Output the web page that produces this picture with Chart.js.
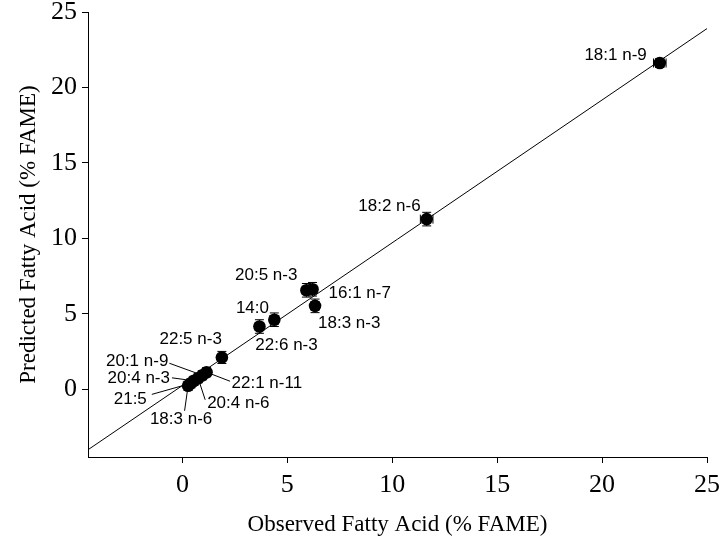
<!DOCTYPE html>
<html>
<head>
<meta charset="utf-8">
<script src="https://cdn.jsdelivr.net/npm/chart.js@4"></script>
<style>
  html, body { margin: 0; padding: 0; background: #fff; }
  #chart { display: block; }
</style>
</head>
<body>
<canvas id="chart" width="725" height="542"></canvas>
<script>
// fatty acids, observed vs predicted (% FAME)
const acids = ['18:1 n-9', '18:2 n-6', '20:5 n-3', '16:1 n-7', '18:3 n-3', '14:0', '22:6 n-3',
  '22:5 n-3', '20:1 n-9', '20:4 n-3', '21:5', '18:3 n-6', '20:4 n-6', '22:1 n-11'];
const observed = [22.75, 11.64, 5.91, 6.2, 6.32, 3.67, 4.38, 1.88, 0.95, 0.55, 0.4, 0.27, 0.75, 1.15];
const predicted = [21.62, 11.27, 6.55, 6.62, 5.52, 4.15, 4.6, 2.1, 0.92, 0.55, 0.38, 0.22, 0.72, 1.12];
const observedErr = [0.3, 0.3, 0.2, 0.2, 0.2, 0.2, 0.2, 0.15, 0.1, 0.1, 0.1, 0.1, 0.1, 0.1];
const predictedErr = [0.3, 0.45, 0.45, 0.45, 0.45, 0.45, 0.45, 0.4, 0.3, 0.3, 0.3, 0.3, 0.3, 0.3];

// fitted line ends
const fitX = [-4.5, 25];
const fitY = [-4.02, 23.9];

const xTicks = [0, 5, 10, 15, 20, 25];
const yTicks = [0, 5, 10, 15, 20, 25];

// label placement in px from the point: [dx, dy, align], leader end [dx, dy] or null
const labelPos = [
  [-13, -8, 'right', null],
  [-6, -13, 'right', null],
  [-9, -15, 'right', null],
  [16, 4, 'left', null],
  [3, 17, 'left', null],
  [-7, -18, 'center', null],
  [-19, 26, 'left', null],
  [0, -18, 'right', null],
  [-34, -14, 'right', [-33, -12]],
  [-24, -3, 'right', [-22, -3]],
  [-44, 16, 'right', [-39, 11]],
  [-7, 34, 'center', [-3.5, 25]],
  [9, 25, 'left', [7, 21.5]],
  [25, 11, 'left', [23.5, 9]]
];

const black = '#000';
const serif = "'Liberation Serif', 'Times New Roman', serif";
const sans = "'Liberation Sans', Arial, sans-serif";

const extras = {
  id: 'extras',
  beforeDatasetsDraw(chart) {
    const ctx = chart.ctx;
    const meta = chart.getDatasetMeta(1);
    ctx.save();
    ctx.strokeStyle = black;
    ctx.lineWidth = 1;
    meta.data.forEach((pt, i) => {
      const lead = labelPos[i][3];
      if (!lead) return;
      ctx.beginPath();
      ctx.moveTo(pt.x, pt.y);
      ctx.lineTo(pt.x + lead[0], pt.y + lead[1]);
      ctx.stroke();
    });
    ctx.restore();
  },
  afterDatasetsDraw(chart) {
    const ctx = chart.ctx;
    const xs = chart.scales.x, ys = chart.scales.y;
    const meta = chart.getDatasetMeta(1);
    ctx.save();
    ctx.strokeStyle = black;
    ctx.lineWidth = 1;
    const cap = 4.5;
    observed.forEach((v, i) => {
      const cx = xs.getPixelForValue(v), cy = ys.getPixelForValue(predicted[i]);
      const x0 = xs.getPixelForValue(v - observedErr[i]), x1 = xs.getPixelForValue(v + observedErr[i]);
      const y0 = ys.getPixelForValue(predicted[i] - predictedErr[i]), y1 = ys.getPixelForValue(predicted[i] + predictedErr[i]);
      ctx.beginPath();
      ctx.moveTo(x0, cy); ctx.lineTo(x1, cy);
      ctx.moveTo(x0, cy - cap); ctx.lineTo(x0, cy + cap);
      ctx.moveTo(x1, cy - cap); ctx.lineTo(x1, cy + cap);
      ctx.moveTo(cx, y0); ctx.lineTo(cx, y1);
      ctx.moveTo(cx - cap, y0); ctx.lineTo(cx + cap, y0);
      ctx.moveTo(cx - cap, y1); ctx.lineTo(cx + cap, y1);
      ctx.stroke();
    });
    ctx.fillStyle = black;
    ctx.font = '17px ' + sans;
    ctx.textBaseline = 'middle';
    meta.data.forEach((pt, i) => {
      const p = labelPos[i];
      ctx.textAlign = p[2];
      ctx.fillText(acids[i], pt.x + p[0], pt.y + p[1]);
    });
    ctx.restore();
  }
};

function axis(ticks, title, fit, tickPad, titlePad) {
  return {
    type: 'linear',
    min: -4.5,
    max: 25,
    afterBuildTicks: s => { s.ticks = ticks.map(v => ({ value: v })); },
    afterFit: s => {
      fit(s);
      s.paddingTop = 0; s.paddingBottom = 0; s.paddingLeft = 0; s.paddingRight = 0;
    },
    grid: { drawOnChartArea: false, drawTicks: true, tickLength: 6, color: black, lineWidth: 1 },
    border: { display: true, color: black, width: 1 },
    ticks: { color: black, font: { family: serif, size: 26 }, padding: tickPad },
    title: { display: true, text: title, color: black, font: { family: serif, size: 23 }, padding: titlePad }
  };
}

new Chart(document.getElementById('chart'), {
  type: 'scatter',
  data: {
    datasets: [{
      type: 'line',
      data: fitX.map((v, i) => ({ x: v, y: fitY[i] })),
      borderColor: black,
      borderWidth: 1,
      pointRadius: 0,
      fill: false
    }, {
      data: observed.map((v, i) => ({ x: v, y: predicted[i] })),
      backgroundColor: black,
      borderColor: black,
      pointRadius: 6.3,
      pointBorderWidth: 0
    }]
  },
  options: {
    responsive: false,
    animation: false,
    layout: { padding: { top: 12, right: 18, left: 0, bottom: 0 } },
    plugins: { legend: { display: false }, tooltip: { enabled: false } },
    scales: {
      x: axis(xTicks, 'Observed Fatty Acid (% FAME)', s => { s.height = 85; }, 7, { top: 0, bottom: 3 }),
      y: axis(yTicks, 'Predicted Fatty Acid (% FAME)', s => { s.width = 88; }, 5, { top: 15, bottom: 0 })
    }
  },
  plugins: [extras]
});
</script>
</body>
</html>
